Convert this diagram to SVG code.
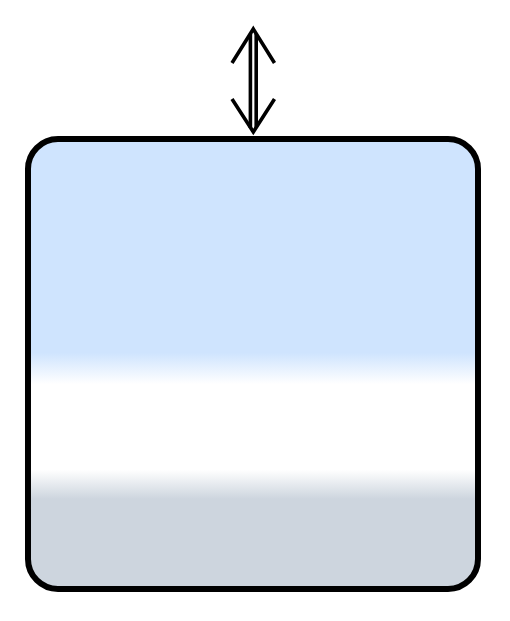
<svg xmlns="http://www.w3.org/2000/svg" width="510" height="621" viewBox="0 0 510 621">
<defs>
<linearGradient id="fillg" x1="0" y1="0" x2="0" y2="1">
<stop offset="0" stop-color="#cfe4fe"/>
<stop offset="0.475" stop-color="#cfe4fe"/>
<stop offset="0.545" stop-color="#ffffff"/>
<stop offset="0.735" stop-color="#ffffff"/>
<stop offset="0.8" stop-color="#cdd5de"/>
<stop offset="1" stop-color="#cdd5de"/>
</linearGradient>
</defs>
<style>
.box{fill:url(#fillg);stroke:#000;stroke-width:6}
.arr{fill:none;stroke:#000;stroke-width:3.6;stroke-linecap:butt;stroke-linejoin:miter}
</style>
<g id="box">
<rect class="box" x="28" y="139" width="450" height="450" rx="30" ry="30"/>
</g>
<g id="connectors">
<line class="arr" x1="250.4" y1="34" x2="250.4" y2="128"/>
<line class="arr" x1="256.2" y1="34" x2="256.2" y2="128"/>
<polyline class="arr" points="232,63 253.3,29 274.5,63"/>
<polyline class="arr" points="232,99 253.3,132 274.5,99"/>
</g>
</svg>
